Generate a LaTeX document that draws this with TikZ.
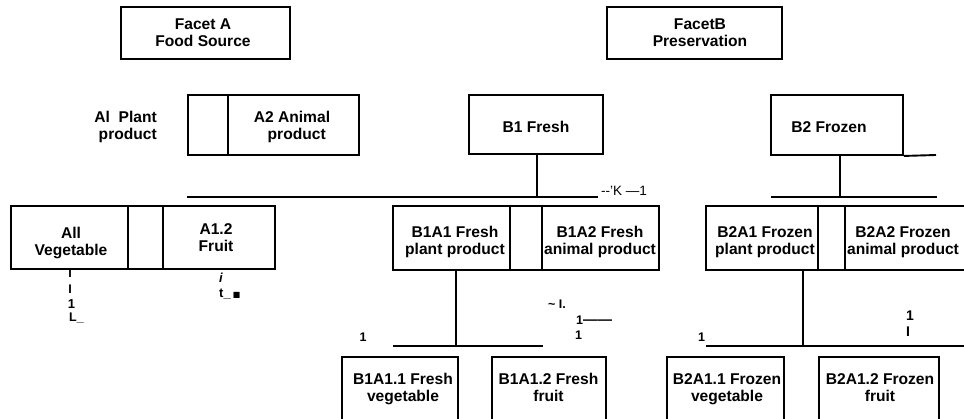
\documentclass[tikz,border=0pt]{standalone}
\usepackage{fontspec}
\setmainfont{Liberation Sans}
\newfontfamily\symfont{DejaVu Sans}
\begin{document}
\begin{tikzpicture}[x=1pt,y=-1pt,
  box/.style={draw, line width=1.9pt, inner sep=0pt, rectangle},
  txt/.style={font=\bfseries\fontsize{15.6}{17}\selectfont, align=center, inner sep=0pt, anchor=north},
  wire/.style={line width=1.9pt},
  junk/.style={font=\bfseries\fontsize{12.5}{12.5}\selectfont, inner sep=0pt, anchor=base west}]
\useasboundingbox (0,0) rectangle (964,419);
\clip (0,0) rectangle (964,419);

% facet headings
\node[box, minimum width=169pt, minimum height=52pt] (fa) at (205.5,33) {};
\node[txt] (faT) at (203,18.5) {Facet A\\Food Source};
\node[box, minimum width=175pt, minimum height=52pt] (fb) at (694.5,33) {};
\node[txt] (fbT) at (700,18.5) {FacetB\\Preservation};

% first level
\node[txt, align=right, anchor=north east] (a1T) at (157,111) {Al\ \ Plant\\product};
\node[box, minimum width=40pt, minimum height=60pt] (a1) at (208,125) {};
\node[box, minimum width=131pt, minimum height=60pt] (a2) at (293.5,125) {};
\node[txt] (a2T) at (292,111) {A2 Animal\\\hspace*{0.6em}product};
\node[box, minimum width=134pt, minimum height=59pt] (b1) at (536,124.5) {};
\node[txt] (b1T) at (536,121) {B1 Fresh};
\node[box, minimum width=132pt, minimum height=60pt] (b2) at (837,125) {};
\node[txt] (b2T) at (829,121) {B2 Frozen};
\coordinate (b2ext) at (936,155);
\draw[wire] (b2.south east) -- (b2ext);

% bars under the first level
\coordinate (barAl) at (187,197);
\coordinate (barAr) at (598,197);
\draw[wire] (barAl) -- (barAr);
\draw[wire] ([xshift=1pt]b1.south) -- ([xshift=1pt]b1.south |- barAl);
\node[junk, font=\fontsize{13.5}{13.5}\selectfont] (kx) at (601,196) {-{}-'K —1};
\coordinate (barBl) at (771,197);
\coordinate (barBr) at (937,197);
\draw[wire] (barBl) -- (barBr);
\draw[wire] ([xshift=3pt]b2.south) -- ([xshift=3pt]b2.south |- barBl);

% second level
\node[box, minimum width=117pt, minimum height=63pt] (aveg) at (69.5,237.5) {};
\node[box, minimum width=35pt, minimum height=63pt] (amid) at (145.5,237.5) {};
\node[box, minimum width=112pt, minimum height=63pt] (afru) at (219,237.5) {};
\node[txt] (avegT) at (71,227) {All\\Vegetable};
\node[txt] (afruT) at (216,223) {A1.2\\Fruit};

\node[box, minimum width=117pt, minimum height=64pt] (b1a1) at (451.5,238) {};
\node[box, minimum width=32pt, minimum height=64pt] (b1m) at (526,238) {};
\node[box, minimum width=117pt, minimum height=64pt] (b1a2) at (600.5,238) {};
\node[txt] (b1a1T) at (455,226) {B1A1 Fresh\\plant product};
\node[txt] (b1a2T) at (600,226) {B1A2 Fresh\\animal product};

\node[box, minimum width=112pt, minimum height=64pt] (b2a1) at (762,238) {};
\node[box, minimum width=27pt, minimum height=64pt] (b2m) at (831.5,238) {};
\node[box, minimum width=130pt, minimum height=64pt] (b2a2) at (910,238) {};
\node[txt] (b2a1T) at (765,226) {B2A1 Frozen\\plant product};
\node[txt] (b2a2T) at (903,226) {B2A2 Frozen\\animal product};

% bars under the second level
\coordinate (barCl) at (393,346);
\coordinate (barCr) at (543,346);
\draw[wire] (barCl) -- (barCr);
\draw[wire] ([xshift=4.5pt]b1a1.south) -- ([xshift=4.5pt]b1a1.south |- barCl);
\coordinate (barDl) at (706,346);
\coordinate (barDr) at (975,346);
\draw[wire] (barDl) -- (barDr);
\draw[wire] ([xshift=41pt]b2a1.south) -- ([xshift=41pt]b2a1.south |- barDl);

% third level
\node[box, minimum width=116pt, minimum height=83pt] (b1a11) at (400,398.5) {};
\node[box, minimum width=114pt, minimum height=83pt] (b1a12) at (549,398.5) {};
\node[box, minimum width=117pt, minimum height=83pt] (b2a11) at (725.5,398.5) {};
\node[box, minimum width=120pt, minimum height=83pt] (b2a12) at (879,398.5) {};
\node[txt] (b1a11T) at (403,373) {B1A1.1 Fresh\\vegetable};
\node[txt] (b1a12T) at (548.5,373) {B1A1.2 Fresh\\fruit};
\node[txt] (b2a11T) at (727,373) {B2A1.1 Frozen\\vegetable};
\node[txt] (b2a12T) at (880,373) {B2A1.2 Frozen\\fruit};

% stray marks
\node[junk, anchor=base] (s1) at (70,278) {I};
\node[junk, anchor=base] (s2) at (70,294) {I};
\node[junk, font=\bfseries\fontsize{13}{13}\selectfont, anchor=base] (s3) at (71.5,309) {1};
\node[junk, font=\bfseries\fontsize{12.5}{12.5}\selectfont] (s4) at (69,322) {L\_};
\node[junk, font=\bfseries\itshape\fontsize{13}{13}\selectfont, anchor=base] (s5) at (221,283) {i};
\node[junk, font=\bfseries\fontsize{13}{13}\selectfont] (s6) at (219,298) {t\_\,{\symfont\fontsize{8}{8}\selectfont ■}};
\node[junk] (s7) at (548,309) {\textasciitilde\ I.};
\node[junk] (s8) at (576,325) {1{\fontsize{14.5}{14.5}\selectfont ——}};
\node[junk] (s9) at (575,339.5) {1};
\node[junk] (s10) at (359.5,342) {1};
\node[junk] (s11) at (698,342) {1};
\node[junk, font=\bfseries\fontsize{14}{14}\selectfont] (s12) at (906,321) {1};
\node[junk, font=\bfseries\fontsize{14}{14}\selectfont] (s13) at (906,337) {I};
\end{tikzpicture}
\end{document}
